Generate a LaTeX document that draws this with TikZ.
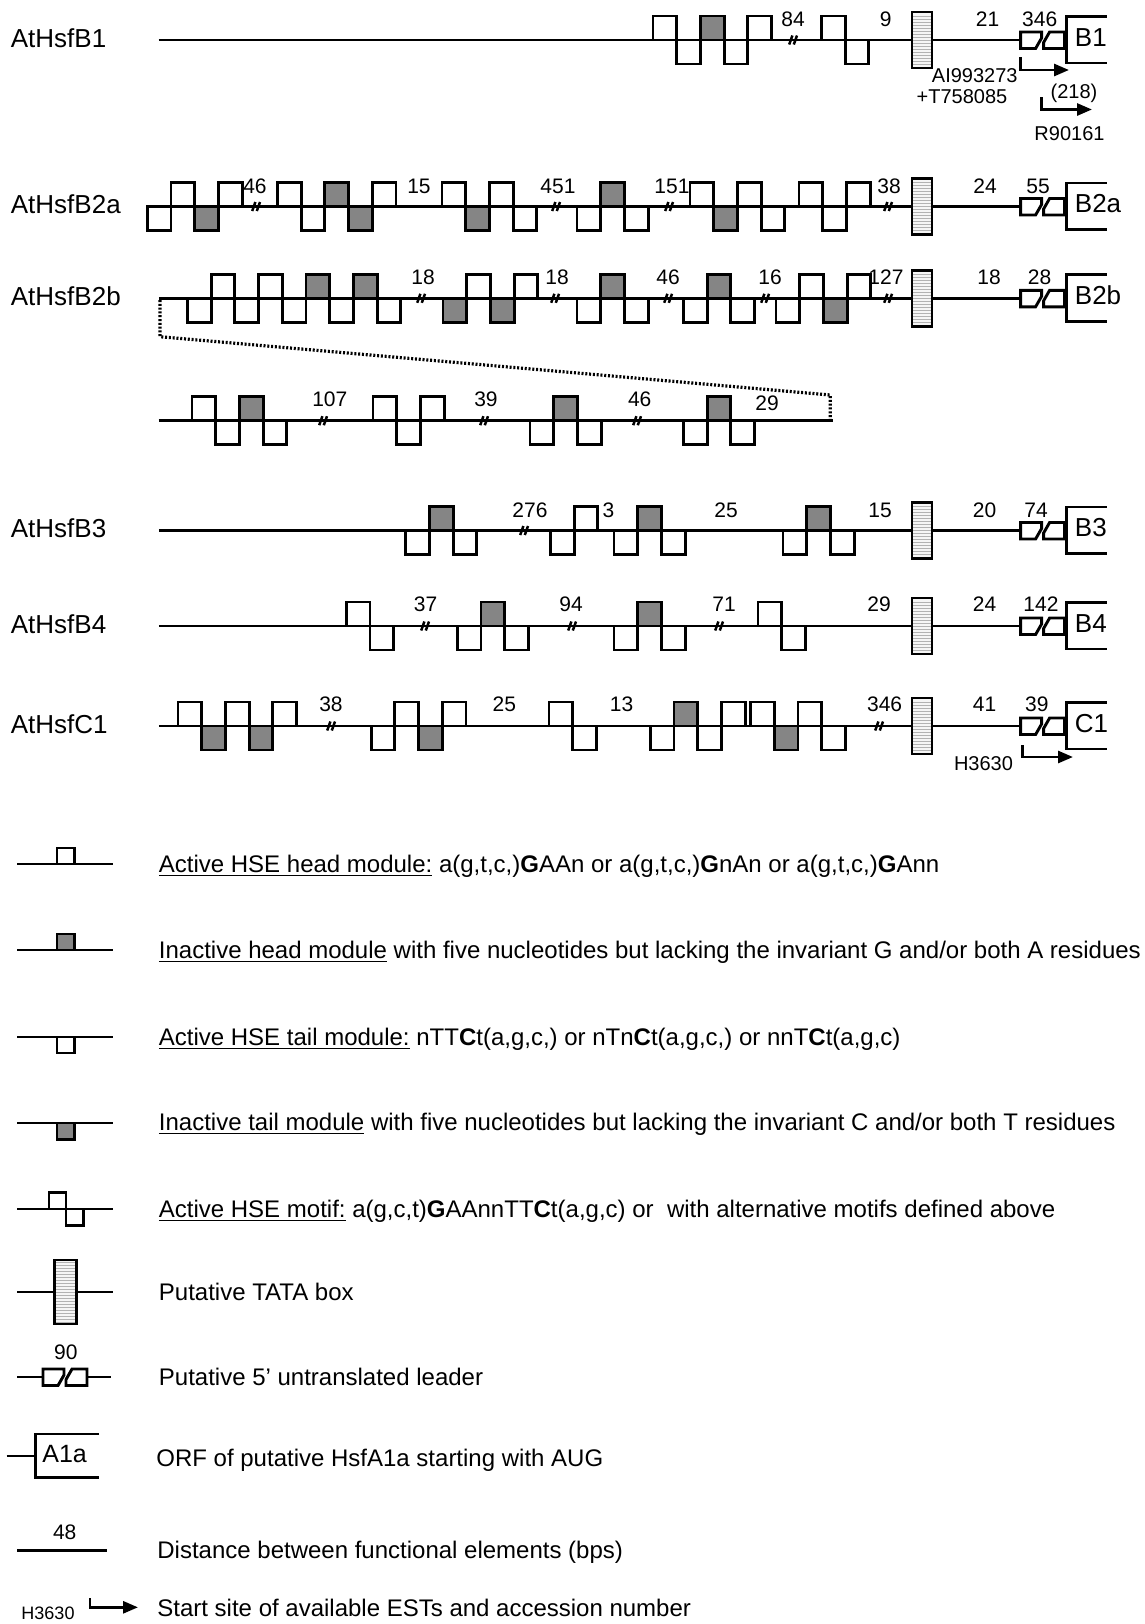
\documentclass[tikz,border=0pt]{standalone}
\usepackage{fontspec}
\setmainfont{Liberation Sans}
\usetikzlibrary{arrows.meta}
\definecolor{modgray}{RGB}{133,133,133}
\newcommand\hsbw{23.7}
\tikzset{
 modline/.style={line width=1.45pt},
 modbox/.style={line width=1.45pt, line join=miter},
 brkline/.style={line width=1.25pt},
 dotline/.style={line width=1.6pt, dash pattern=on 1pt off 0.9pt},
 tatabg/.style={fill=gray!8},
 tatahatch/.style={draw=gray!60, line width=0.35pt},
 numlab/.style={font=\fontsize{10.5}{12}\selectfont, inner sep=0pt, text height=7.6pt, text depth=0pt},
 rowlab/.style={font=\fontsize{13}{15}\selectfont, inner sep=0pt, anchor=west, text height=9.4pt, text depth=0pt},
 orflab/.style={font=\fontsize{13}{15}\selectfont, inner sep=0pt, anchor=west, text height=9.4pt, text depth=0pt},
 estlab/.style={font=\fontsize{10}{12}\selectfont, inner sep=0pt, text height=7.2pt, text depth=0pt},
 legtext/.style={font=\fontsize{12}{14}\selectfont, inner sep=0pt, anchor=west, text height=8.6pt, text depth=0pt},
 estarrow/.style={line width=1.4pt, -{Triangle[length=7.5pt,width=6pt]}},
}
% modules: baseline y, list x/dir/fillpercent
\newcommand\modrow[2]{%
  \foreach \mx/\md/\mp in {#2}{%
    \draw[modbox, fill=modgray!\mp!white] (\mx,#1) rectangle ++(\hsbw,{-24*\md});
  }}
\newcommand\brks[2]{% baseline y, list of x
  \foreach \bx in {#2}{%
    \draw[brkline] ({\bx-3.8},{#1+4.5}) -- ({\bx-0.6},{#1-4.5}) ({\bx+0.8},{#1+4.5}) -- ({\bx+4},{#1-4.5});
  }}
\newcommand\tatabox[4]{% x left, baseline, width, half height
  \fill[tatabg] (#1,{#2-#4}) rectangle ({#1+#3},{#2+#4});
  \foreach \k in {-30,-27,...,30}{%
    \pgfmathparse{abs(\k)<#4-1 ? 1 : 0}%
    \ifnum\pgfmathresult=1 \draw[tatahatch] (#1,{#2+\k}) -- ({#1+#3},{#2+\k});\fi
  }
  \draw[modbox] (#1,{#2-#4}) rectangle ({#1+#3},{#2+#4});}
\newcommand\utr[2]{% x left, baseline
  \draw[modbox,fill=white] (#1,{#2-8}) -- ({#1+21},{#2-8}) -- ({#1+21},{#2-2}) -- ({#1+15},{#2+8.5}) -- (#1,{#2+8.5}) -- cycle;
  \draw[modbox,fill=white] ({#1+44},{#2+8.5}) -- ({#1+23},{#2+8.5}) -- ({#1+23},{#2+2.5}) -- ({#1+29},{#2-8}) -- ({#1+44},{#2-8}) -- cycle;}
\newcommand\orf[4]{% x, baseline, label, name
  \draw[modbox] ({#1+40},{#2-23.5}) -- (#1,{#2-23.5}) -- (#1,{#2+23}) -- ({#1+40},{#2+23});
  \node[orflab] (#4) at ({#1+8},{#2-3}) {#3};}
\newcommand\tail[1]{% baseline y : TATA, UTR, ORF connection
  \draw[modline] (932,#1) -- (1020.6,#1) (1064.6,#1) -- (1066.5,#1);
  \tatabox{912}{#1}{20}{28}
  \utr{1020.6}{#1}}

\begin{document}
\begin{tikzpicture}[x=0.5pt,y=-0.5pt]
\useasboundingbox (0,0) rectangle (1145,1624);
\fill[white] (0,0) rectangle (1145,1624);

% ---------------- AtHsfB1 ----------------
\node[rowlab] (lB1) at (10.5,38) {AtHsfB1};
\draw[modline] (158.5,40) -- (912,40);
\brks{40}{793}
\modrow{40}{653/1/0, 676.7/-1/0, 700.4/1/100, 724.1/-1/0, 747.8/1/0, 821.4/1/0, 845.1/-1/0}
\tail{40}
\orf{1066.5}{40}{B1}{oB1}
\foreach \nx/\nt [count=\i] in {793/84, 885.7/9, 987.6/21, 1039.7/346}
  \node[numlab] (nB1\i) at (\nx,19) {\nt};
\coordinate (eB1as) at (1020.6,57);
\coordinate (eB1ae) at (1069,70);
\draw[estarrow] (eB1as) |- (eB1ae);
\node[estlab, anchor=east] (tAI) at (1018,75.5) {AI993273};
\node[estlab] (tT7) at (962,96.5) {+T758085};
\node[estlab] (t218) at (1074,91.5) {(218)};
\coordinate (eB1bs) at (1041.4,97);
\coordinate (eB1be) at (1092,109.5);
\draw[estarrow] (eB1bs) |- (eB1be);
\node[estlab] (tR9) at (1069.5,133) {R90161};

% ---------------- AtHsfB2a ----------------
\node[rowlab] (lB2a) at (10.5,204.5) {AtHsfB2a};
\draw[modline] (147.3,206.5) -- (912,206.5);
\brks{206.5}{256,556,669,888}
\modrow{206.5}{147.3/-1/0, 171/1/0, 194.7/-1/100, 218.4/1/0,
  277.5/1/0, 301.2/-1/0, 324.9/1/100, 348.6/-1/100, 372.3/1/0,
  442/1/0, 465.7/-1/100, 489.4/1/0, 513.1/-1/0,
  577/-1/0, 600.7/1/100, 624.4/-1/0,
  690/1/0, 713.7/-1/100, 737.4/1/0, 761.1/-1/0,
  799/1/0, 822.7/-1/0, 846.4/1/0}
\tail{206.5}
\orf{1066.5}{206.5}{B2a}{oB2a}
\foreach \nx/\nt [count=\i] in {255/46, 419/15, 558/451, 672/151, 889/38, 985/24, 1038/55}
  \node[numlab] (nB2a\i) at (\nx,185.5) {\nt};

% ---------------- AtHsfB2b ----------------
\node[rowlab] (lB2b) at (10.5,296.3) {AtHsfB2b};
\draw[modline] (158.8,298.3) -- (912,298.3);
\brks{298.3}{421,555,668,765,888}
\modrow{298.3}{187.5/-1/0, 211.2/1/0, 234.9/-1/0, 258.6/1/0, 282.3/-1/0, 306/1/100, 329.7/-1/0, 353.4/1/100, 377.1/-1/0,
  443/-1/100, 466.7/1/0, 490.4/-1/100, 514.1/1/0,
  577/-1/0, 600.7/1/100, 624.4/-1/0,
  683.5/-1/0, 707.2/1/100, 730.9/-1/0,
  776/-1/0, 799.7/1/0, 823.4/-1/100, 847.1/1/0}
\tail{298.3}
\orf{1066.5}{298.3}{B2b}{oB2b}
\foreach \nx/\nt [count=\i] in {423/18, 557/18, 668/46, 770/16, 886/127, 989/18, 1039.5/28}
  \node[numlab] (nB2b\i) at (\nx,277) {\nt};

% ---------------- expansion ----------------
\draw[dotline] (160,300) -- (160,336.7) -- (830.3,395) -- (830.3,420.7);
\draw[modline] (158.5,420.7) -- (832.6,420.7);
\brks{420.7}{323,484,637}
\modrow{420.7}{192/1/0, 215.7/-1/0, 239.4/1/100, 263.1/-1/0,
  373/1/0, 396.7/-1/0, 420.4/1/0,
  530/-1/0, 553.7/1/100, 577.4/-1/0,
  683.5/-1/0, 707.2/1/100, 730.9/-1/0}
\foreach \nx/\nt [count=\i] in {329.8/107, 486/39, 639.7/46}
  \node[numlab] (nEx\i) at (\nx,399) {\nt};
\node[numlab] (nEx4) at (767,403) {29};

% ---------------- AtHsfB3 ----------------
\node[rowlab] (lB3) at (10.5,528.5) {AtHsfB3};
\draw[modline] (158.8,530.5) -- (912,530.5);
\brks{530.5}{524}
\modrow{530.5}{405.7/-1/0, 429.4/1/100, 453.1/-1/0,
  550.5/-1/0, 574.2/1/0,
  614/-1/0, 637.7/1/100, 661.4/-1/0,
  783/-1/0, 806.7/1/100, 830.4/-1/0}
\tail{530.5}
\orf{1066.5}{530.5}{B3}{oB3}
\foreach \nx/\nt [count=\i] in {530/276, 608.5/3, 726/25, 880/15, 984.6/20, 1036/74}
  \node[numlab] (nB3\i) at (\nx,509.5) {\nt};

% ---------------- AtHsfB4 ----------------
\node[rowlab] (lB4) at (10.5,624) {AtHsfB4};
\draw[modline] (158.8,626) -- (912,626);
\brks{626}{425,572,719}
\modrow{626}{346.3/1/0, 370/-1/0,
  457.3/-1/0, 481/1/100, 504.7/-1/0,
  614/-1/0, 637.7/1/100, 661.4/-1/0,
  758/1/0, 781.7/-1/0}
\tail{626}
\orf{1066.5}{626}{B4}{oB4}
\foreach \nx/\nt [count=\i] in {425.6/37, 571/94, 724/71, 879/29, 984.6/24, 1041/142}
  \node[numlab] (nB4\i) at (\nx,604) {\nt};

% ---------------- AtHsfC1 ----------------
\node[rowlab] (lC1) at (10.5,724) {AtHsfC1};
\draw[modline] (158.8,726) -- (912,726);
\brks{726}{331,879}
\modrow{726}{178/1/0, 201.7/-1/100, 225.4/1/0, 249.1/-1/100, 272.8/1/0,
  371.2/-1/0, 394.9/1/0, 418.6/-1/100, 442.3/1/0,
  549/1/0, 572.7/-1/0,
  650.3/-1/0, 674/1/100, 697.7/-1/0, 721.4/1/0,
  750.6/1/0, 774.3/-1/100, 798/1/0, 821.7/-1/0}
\tail{726}
\orf{1066.5}{726}{C1}{oC1}
\foreach \nx/\nt [count=\i] in {331/38, 504.4/25, 621.6/13, 884.6/346, 984.6/41, 1036.8/39}
  \node[numlab] (nC1\i) at (\nx,704) {\nt};
\coordinate (eC1s) at (1022.6,745);
\coordinate (eC1e) at (1073,757);
\draw[estarrow] (eC1s) |- (eC1e);
\node[estlab] (tH1) at (983.5,763.5) {H3630};

% ---------------- legend ----------------
% 1 active head
\draw[modline] (17,864) -- (113,864);
\draw[modbox,fill=white] (57,864) rectangle (74.5,848);
\node[legtext] (L1) at (158.5,864) {\underline{Active HSE head module:} a(g,t,c,)\textbf{G}AAn or a(g,t,c,)\textbf{G}nAn or a(g,t,c,)\textbf{G}Ann};
% 2 inactive head
\draw[modline] (17,950) -- (113,950);
\draw[modbox,fill=modgray] (57,950) rectangle (74.5,934);
\node[legtext] (L2) at (158.5,949.5) {\underline{Inactive head module} with five nucleotides but lacking the invariant G and/or both A residues};
% 3 active tail
\draw[modline] (17,1037) -- (113,1037);
\draw[modbox,fill=white] (57,1037) rectangle (74.5,1053);
\node[legtext] (L3) at (158.5,1036.5) {\underline{Active HSE tail module:} nTT\textbf{C}t(a,g,c,) or nTn\textbf{C}t(a,g,c,) or nnT\textbf{C}t(a,g,c)};
% 4 inactive tail
\draw[modline] (17,1123) -- (113,1123);
\draw[modbox,fill=modgray] (57,1123) rectangle (74.5,1139.5);
\node[legtext] (L4) at (158.5,1121.5) {\underline{Inactive tail module} with five nucleotides but lacking the invariant C and/or both T residues};
% 5 motif
\draw[modline] (17,1209) -- (113,1209);
\draw[modbox,fill=white] (49,1209) rectangle (66,1192.5);
\draw[modbox,fill=white] (66,1209) rectangle (83.4,1225.7);
\node[legtext] (L5) at (158.5,1208.5) {\underline{Active HSE motif:} a(g,c,t)\textbf{G}AAnnTT\textbf{C}t(a,g,c) or\ \ with alternative motifs defined above};
% 6 TATA
\draw[modline] (17,1292) -- (113,1292);
\tatabox{54.3}{1292}{22}{32}
\node[legtext] (L6) at (158.5,1291.5) {Putative TATA box};
% 7 UTR
\draw[modline] (17,1377) -- (43,1377) (87,1377) -- (111,1377);
\utr{43}{1377}
\node[numlab] (L7n) at (65.8,1352) {90};
\node[legtext] (L7) at (158.5,1376.5) {Putative 5’ untranslated leader};
% 8 ORF
\draw[modline] (6.7,1456) -- (35.7,1456);
\draw[modbox] (99,1434) -- (35.7,1434) -- (35.7,1477.3) -- (99,1477.3);
\node[orflab, font=\fontsize{12.5}{14}\selectfont] (L8a) at (42,1453) {A1a};
\node[legtext] (L8) at (156,1458) {ORF of putative HsfA1a starting with AUG};
% 9 distance
\draw[modline] (17,1550.7) -- (107,1550.7);
\node[numlab] (L9n) at (64.7,1531.5) {48};
\node[legtext] (L9) at (157,1549.5) {Distance between functional elements (bps)};
% 10 EST
\coordinate (eLs) at (90,1598.3);
\coordinate (eLe) at (138,1607.3);
\draw[estarrow] (eLs) |- (eLe);
\node[estlab, font=\fontsize{9}{11}\selectfont] (L10h) at (48,1612) {H3630};
\node[legtext] (L10) at (157,1607.5) {Start site of available ESTs and accession number};
\end{tikzpicture}
\end{document}
